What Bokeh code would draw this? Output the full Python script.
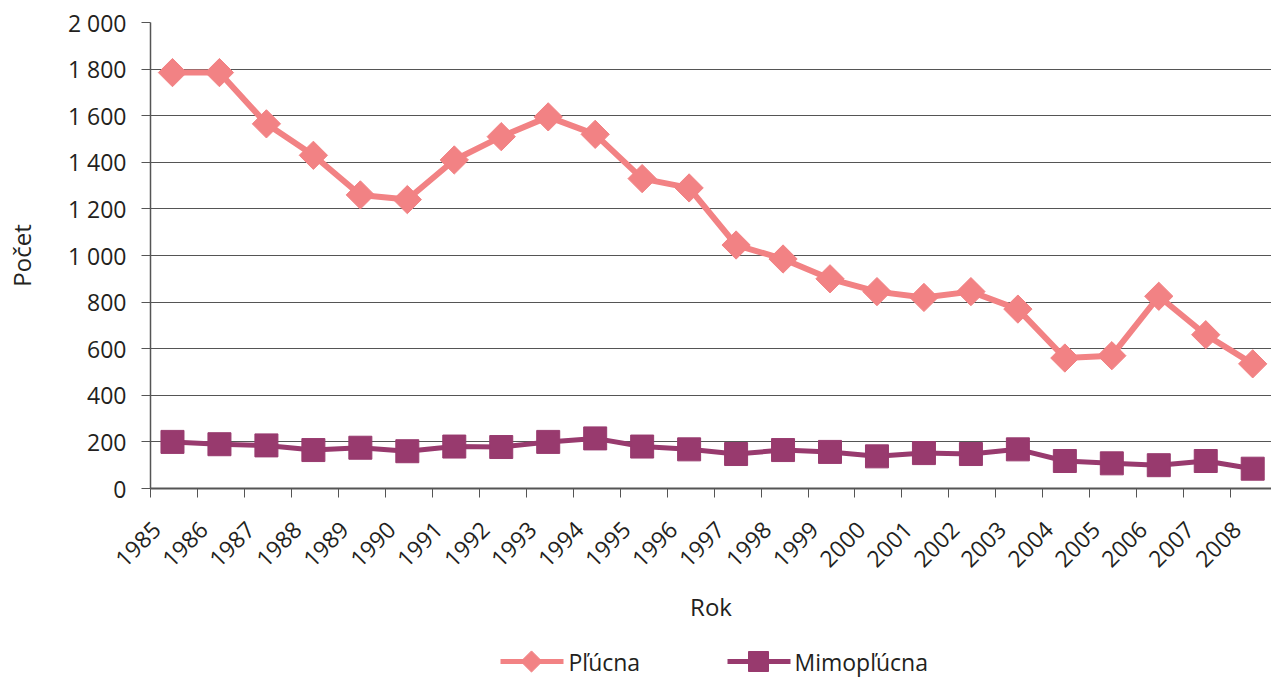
import math
from bokeh.plotting import figure
from bokeh.layouts import column
from bokeh.models import Range1d, FixedTicker, CustomJSTickFormatter, ColumnDataSource
from bokeh.embed import file_html
from bokeh.resources import INLINE
from bokeh.core.properties import value

years = ["1985", "1986", "1987", "1988", "1989", "1990", "1991", "1992", "1993", "1994",
         "1995", "1996", "1997", "1998", "1999", "2000", "2001", "2002", "2003", "2004",
         "2005", "2006", "2007", "2008"]
plucna = [1785, 1785, 1565, 1430, 1260, 1240, 1410, 1510, 1595, 1520,
          1330, 1290, 1045, 985, 900, 845, 820, 845, 770, 560,
          570, 825, 660, 535]
mimoplucna = [200, 190, 185, 165, 175, 160, 180, 178, 200, 215,
              180, 168, 148, 165, 157, 138, 152, 148, 168, 118,
              108, 100, 118, 85]
y_ticks = [0, 200, 400, 600, 800, 1000, 1200, 1400, 1600, 1800, 2000]
y_tick_labels = ["0", "200", "400", "600", "800", "1 000", "1 200", "1 400", "1 600", "1 800", "2 000"]
series_names = ["Pľúcna", "Mimopľúcna"]

FONT = "Open Sans"
TXT = "#231f20"
C1 = "#f28284"
C2 = "#983a6e"
W = 1271
LEFT = 150
LAB_SHIFT = 0.34

xs = list(range(len(years)))
src = ColumnDataSource(dict(x=xs, p=plucna, m=mimoplucna))

p = figure(width=W, height=646, output_backend="svg", toolbar_location=None,
           x_range=Range1d(-0.468, 23.40), y_range=Range1d(0, 2000),
           min_border_left=LEFT, min_border_right=0, min_border_top=22, min_border_bottom=158)
p.outline_line_color = None

# y axis
p.yaxis.ticker = FixedTicker(ticks=y_ticks)
p.yaxis.major_label_overrides = {t: l for t, l in zip(y_ticks, y_tick_labels)}
p.yaxis.axis_line_color = "#555555"
p.yaxis.axis_line_width = 1.5
p.yaxis.major_tick_line_color = "#555555"
p.yaxis.major_tick_out = 9
p.yaxis.major_tick_in = 0
p.yaxis.minor_tick_line_color = None
p.yaxis.major_label_standoff = 15
p.yaxis.major_label_text_font = FONT
p.yaxis.major_label_text_font_size = "23px"
p.yaxis.major_label_text_color = TXT
p.yaxis.axis_label = "Počet"
p.yaxis.axis_label_text_font = FONT
p.yaxis.axis_label_text_font_size = "24px"
p.yaxis.axis_label_text_font_style = "normal"
p.yaxis.axis_label_text_color = TXT
p.yaxis.axis_label_standoff = 27

# x axis
p.xaxis.ticker = FixedTicker(ticks=[i - LAB_SHIFT for i in xs], minor_ticks=[i - 0.468 for i in xs])
p.xaxis.formatter = CustomJSTickFormatter(args=dict(labels=years, shift=LAB_SHIFT),
                                          code="return labels[Math.round(tick + shift)];")
p.xaxis.axis_line_color = "#555555"
p.xaxis.axis_line_width = 2
p.xaxis.major_tick_out = 0
p.xaxis.major_tick_in = 0
p.xaxis.major_tick_line_color = None
p.xaxis.minor_tick_line_color = "#555555"
p.xaxis.minor_tick_out = 9
p.xaxis.minor_tick_in = 0
p.xaxis.major_label_orientation = math.pi / 4
p.xaxis.major_label_standoff = 28
p.xaxis.major_label_text_font = FONT
p.xaxis.major_label_text_font_size = "23px"
p.xaxis.major_label_text_color = TXT
p.xaxis.axis_label = "Rok"
p.xaxis.axis_label_text_font = FONT
p.xaxis.axis_label_text_font_size = "24px"
p.xaxis.axis_label_text_font_style = "normal"
p.xaxis.axis_label_text_color = TXT
p.xaxis.axis_label_standoff = 12

# grid
p.xgrid.grid_line_color = None
p.ygrid.ticker = FixedTicker(ticks=y_ticks)
p.ygrid.grid_line_color = "#555555"
p.ygrid.grid_line_width = 1

p.line("x", "p", source=src, line_color=C1, line_width=6)
p.scatter("x", "p", source=src, marker="square", size=20, angle=math.pi / 4,
          fill_color=C1, line_color=C1, line_width=1)
p.line("x", "m", source=src, line_color=C2, line_width=5)
p.scatter("x", "m", source=src, marker="square", size=23,
          fill_color=C2, line_color=C2, line_width=1)

# legend strip (screen-pixel coordinates; frame aligned with main frame)
LH = 32
leg = figure(width=W, height=LH, output_backend="svg", toolbar_location=None,
             x_range=Range1d(LEFT, W), y_range=Range1d(0, LH),
             min_border=0, min_border_left=LEFT, min_border_right=0, min_border_top=0, min_border_bottom=0)
leg.axis.visible = False
leg.grid.visible = False
leg.outline_line_color = None
leg_src = ColumnDataSource(dict(
    x0=[500, 727], x1=[563, 790], xm=[531, 758], xt=[568, 794], y=[17, 17],
    col=[C1, C2], mk=["square", "square"], sz=[15, 20], ang=[math.pi / 4, 0],
    lw=[5, 5], name=series_names))
leg.segment("x0", "y", "x1", "y", source=leg_src, line_color="col", line_width="lw")
leg.scatter("xm", "y", source=leg_src, marker="mk", size="sz", angle="ang",
            fill_color="col", line_color="col")
leg.text("xt", "y", text="name", source=leg_src, text_font=value(FONT), text_font_size="23px",
         text_color=TXT, text_baseline="middle", text_align="left")

layout = column(p, leg, spacing=0)
open("out.html", "w").write(file_html(layout, INLINE))
